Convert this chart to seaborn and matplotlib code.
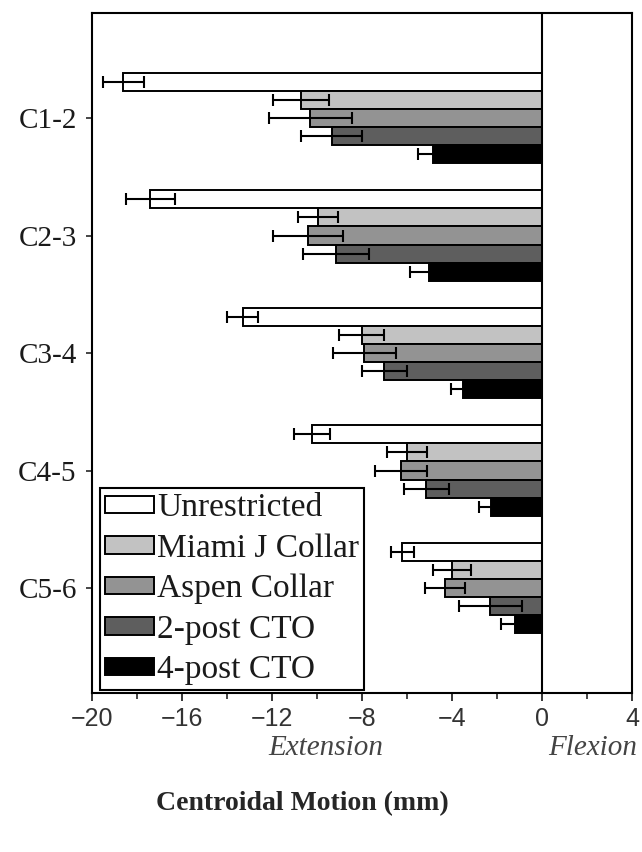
import numpy as np
import pandas as pd
import matplotlib
matplotlib.use("Agg")
import matplotlib.pyplot as plt
from matplotlib.ticker import MultipleLocator
import matplotlib.transforms as mtransforms
import seaborn as sns

levels = ["C1-2", "C2-3", "C3-4", "C4-5", "C5-6"]
groups = ["Unrestricted", "Miami J Collar", "Aspen Collar", "2-post CTO", "4-post CTO"]

# mean centroidal motion (mm), negative = extension
unrestricted = [-18.6, -17.4, -13.3, -10.2, -6.2]
miami = [-10.7, -9.95, -8.0, -6.0, -4.0]
aspen = [-10.3, -10.4, -7.9, -6.25, -4.3]
post2 = [-9.35, -9.15, -7.0, -5.15, -2.3]
post4 = [-4.85, -5.0, -3.5, -2.25, -1.2]

# standard deviations
unrestricted_sd = [0.9, 1.1, 0.7, 0.8, 0.5]
miami_sd = [1.25, 0.9, 1.0, 0.9, 0.85]
aspen_sd = [1.85, 1.55, 1.4, 1.15, 0.9]
post2_sd = [1.35, 1.45, 1.0, 1.0, 1.4]
post4_sd = [0.65, 0.85, 0.55, 0.55, 0.6]

colors = ["white", "#c2c2c2", "#939393", "#5e5e5e", "black"]

means = [unrestricted, miami, aspen, post2, post4]
sds = [unrestricted_sd, miami_sd, aspen_sd, post2_sd, post4_sd]

rows = []
for g, m, s in zip(groups, means, sds):
    for lv, v, e in zip(levels, m, s):
        rows.append({"level": lv, "group": g, "motion": v, "sd": e})
df = pd.DataFrame(rows)

sns.set_theme(style="white")
plt.rcParams["font.family"] = ["Liberation Serif", "DejaVu Serif"]

fig = plt.figure(figsize=(6.42, 8.52), dpi=100)
ax = fig.add_axes([0.1433, 0.1866, 0.8411, 0.7981])

sns.barplot(
    data=df, y="level", x="motion", hue="group",
    order=levels, hue_order=groups, palette=colors,
    edgecolor="black", linewidth=1.4, width=0.77,
    errorbar=None, orient="h", ax=ax
)

# error bars on top of each bar
for cont, g in zip(ax.containers, groups):
    sub = df[df["group"] == g]
    ys = [b.get_y() + b.get_height() / 2 for b in cont]
    ax.errorbar(sub["motion"], ys, xerr=sub["sd"], fmt="none",
                ecolor="black", elinewidth=1.5, capsize=4, capthick=1.5, zorder=3)

ax.axvline(0, color="black", lw=1.5, zorder=4)

ax.set_xlim(-20, 4)
ax.set_ylim(4.894, -0.894)
ax.xaxis.set_major_locator(MultipleLocator(4))
ax.xaxis.set_minor_locator(MultipleLocator(2))
ax.tick_params(axis="x", which="major", direction="out", length=6, width=1.3,
               bottom=True, pad=4, labelsize=18, labelcolor="#333333")
ax.tick_params(axis="x", which="minor", direction="out", length=4, width=1.2, bottom=True)
ax.tick_params(axis="y", direction="out", length=4, width=1.2, left=True,
               pad=7, labelsize=21, labelcolor="#1a1a1a")
for lab in ax.get_xticklabels():
    lab.set_family(["Liberation Sans", "DejaVu Sans"])

for sp in ax.spines.values():
    sp.set_color("black")
    sp.set_linewidth(1.5)

ax.set_ylabel("")
ax.set_xlabel("Centroidal Motion (mm)", fontsize=20, fontweight="bold", va="center")
ax.xaxis.set_label_coords(0.389, -0.162)

trans = mtransforms.blended_transform_factory(ax.transData, ax.transAxes)
ax.text(-9.6, -0.081, "Extension", transform=trans, ha="center", va="center",
        fontsize=21, style="italic", color="#444444")
ax.text(2.25, -0.081, "Flexion", transform=trans, ha="center", va="center",
        fontsize=21, style="italic", color="#444444")

handles, labels = ax.get_legend_handles_labels()
ax.get_legend().remove()
leg = ax.legend(handles, labels, loc="lower left", bbox_to_anchor=(0.015, 0.004),
                borderaxespad=0, fontsize=24, frameon=True, fancybox=False,
                edgecolor="black", framealpha=1, labelspacing=0.3,
                handlelength=1.47, handleheight=0.42, handletextpad=0.1,
                borderpad=0.15)
leg.get_frame().set_linewidth(1.5)
for t in leg.get_texts():
    t.set_color("#1a1a1a")

fig.savefig("out.png", dpi=100)
